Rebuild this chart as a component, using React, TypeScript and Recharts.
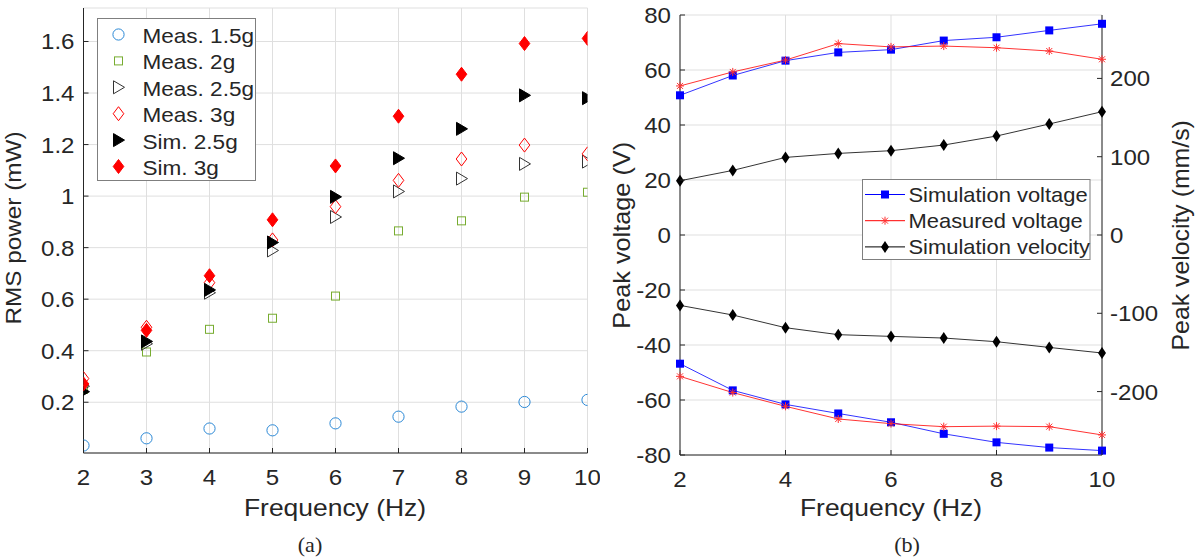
import React from 'react';
import { ScatterChart, Scatter, ComposedChart, Line, XAxis, YAxis, CartesianGrid } from 'recharts';

// ---------- data ----------
const freqs = [2, 3, 4, 5, 6, 7, 8, 9, 10];
const meas15 = [0.032, 0.06, 0.098, 0.091, 0.118, 0.144, 0.183, 0.201, 0.209];
const meas2 = [0.25, 0.395, 0.483, 0.526, 0.612, 0.865, 0.904, 0.996, 1.015];
const meas25 = [0.262, 0.427, 0.625, 0.789, 0.919, 1.018, 1.068, 1.125, 1.134];
const meas3 = [0.292, 0.491, 0.664, 0.83, 0.959, 1.061, 1.144, 1.198, 1.164];
const sim25 = [0.241, 0.436, 0.636, 0.82, 0.997, 1.147, 1.261, 1.391, 1.38];
const sim3 = [0.271, 0.479, 0.691, 0.908, 1.117, 1.31, 1.473, 1.592, 1.612];

const leftXTicks = [2, 3, 4, 5, 6, 7, 8, 9, 10];
const leftYTicks = [0.2, 0.4, 0.6, 0.8, 1, 1.2, 1.4, 1.6];

const simVoltTop = [50.8, 58.0, 63.4, 66.4, 67.4, 70.7, 71.9, 74.4, 76.8];
const measVoltTop = [54.2, 59.3, 63.6, 69.6, 68.4, 68.7, 68.1, 66.9, 63.9];
const simVelTop = [69.3, 82.5, 99.1, 104.2, 107.7, 114.9, 126.4, 141.8, 157.5];
const simVoltBot = [-46.8, -56.5, -61.6, -64.9, -68.1, -72.3, -75.4, -77.3, -78.4];
const measVoltBot = [-51.4, -57.3, -62.3, -66.9, -68.6, -69.7, -69.5, -69.7, -72.7];
const simVelBot = [-89.9, -102.2, -118.4, -127.3, -129.5, -131.6, -136.3, -143.6, -150.7];

const rightXTicks = [2, 4, 6, 8, 10];
const voltTicks = [-80, -60, -40, -20, 0, 20, 40, 60, 80];
const velTicks = [-200, -100, 0, 100, 200];

const leftLegend = ['Meas. 1.5g', 'Meas. 2g', 'Meas. 2.5g', 'Meas. 3g', 'Sim. 2.5g', 'Sim. 3g'];
const rightLegend = ['Simulation voltage', 'Measured voltage', 'Simulation velocity'];

// ---------- style ----------
const FONT = '"Liberation Sans", Arial, Helvetica, sans-serif';
const SERIF = '"Liberation Serif", "Times New Roman", serif';
const TXT = '#262626';
const AX = '#262626';
const GRID = '#dfdfdf';
const SX = 1.12;
const TICK = 21.5;

const toPts = (ys: number[]) => freqs.map((f, i) => ({ x: f, y: ys[i] }));
const rightData = freqs.map((f, i) => ({
  f,
  svt: simVoltTop[i],
  mvt: measVoltTop[i],
  vlt: simVelTop[i],
  svb: simVoltBot[i],
  mvb: measVoltBot[i],
  vlb: simVelBot[i],
}));

const T = ({ x, y, size = 20, anchor = 'start', sx = SX, rot = 0, family = FONT, children }: any) => (
  <text
    transform={`translate(${x},${y})${rot ? ` rotate(${rot})` : ''} scale(${sx},1)`}
    x={0}
    y={0}
    textAnchor={anchor}
    fontFamily={family}
    fontSize={size}
    fill={TXT}
  >
    {children}
  </text>
);

// ---------- markers ----------
const mCircle = (cx: number, cy: number, k?: any) => (
  <circle key={k} cx={cx} cy={cy} r={5.6} fill="none" stroke="#2a88d6" strokeWidth={1} />
);
const mSquare = (cx: number, cy: number, k?: any) => (
  <rect key={k} x={cx - 4} y={cy - 4} width={8} height={8} fill="none" stroke="#77AC30" strokeWidth={1} />
);
const mTriOpen = (cx: number, cy: number, k?: any) => (
  <polygon key={k} points={`${cx - 5},${cy - 6.5} ${cx + 6},${cy} ${cx - 5},${cy + 6.5}`} fill="none" stroke="#333" strokeWidth={1} />
);
const mDiaOpen = (cx: number, cy: number, k?: any) => (
  <polygon key={k} points={`${cx},${cy - 7} ${cx + 5.3},${cy} ${cx},${cy + 7} ${cx - 5.3},${cy}`} fill="none" stroke="#ff0000" strokeWidth={1} />
);
const mTriFill = (cx: number, cy: number, k?: any) => (
  <polygon key={k} points={`${cx - 5},${cy - 6.5} ${cx + 6},${cy} ${cx - 5},${cy + 6.5}`} fill="#000" stroke="#000" strokeWidth={1} />
);
const mDiaFill = (cx: number, cy: number, k?: any) => (
  <polygon key={k} points={`${cx},${cy - 7} ${cx + 5.3},${cy} ${cx},${cy + 7} ${cx - 5.3},${cy}`} fill="#ff0000" stroke="#ff0000" strokeWidth={1} />
);
const leftMarkers = [mCircle, mSquare, mTriOpen, mDiaOpen, mTriFill, mDiaFill];

const dSquare = (cx: number, cy: number, k?: any) => (
  <rect key={k} x={cx - 4} y={cy - 4} width={8} height={8} fill="#0000ff" />
);
const dStar = (cx: number, cy: number, k?: any) => (
  <g key={k} stroke="#ff3030" strokeWidth={1}>
    <line x1={cx - 4} x2={cx + 4} y1={cy} y2={cy} />
    <line x1={cx} x2={cx} y1={cy - 4} y2={cy + 4} />
    <line x1={cx - 3} x2={cx + 3} y1={cy - 3} y2={cy + 3} />
    <line x1={cx - 3} x2={cx + 3} y1={cy + 3} y2={cy - 3} />
  </g>
);
const dDia = (cx: number, cy: number, k?: any) => (
  <polygon key={k} points={`${cx},${cy - 6} ${cx + 4},${cy} ${cx},${cy + 6} ${cx - 4},${cy}`} fill="#000" />
);
const rightMarkers = [dSquare, dStar, dDia];
const rightColors = ['#0000ff', '#ff0000', '#000000'];

const dotFn = (fn: any, name: string) => (p: any) => fn(p.cx, p.cy, `${name}-${p.index}`);

// ---------- ticks ----------
const XTick = (p: any) => (
  <g>
    <line x1={p.x} x2={p.x} y1={p.y} y2={p.y - 5} stroke={AX} strokeWidth={1} />
    <T x={p.x} y={p.y + 31.5} anchor="middle" size={TICK}>{String(p.payload.value)}</T>
  </g>
);
const YTickL = (p: any) => (
  <g>
    <line x1={p.x} x2={p.x + 5} y1={p.y} y2={p.y} stroke={AX} strokeWidth={1} />
    <T x={p.x - 9} y={p.y + 8} anchor="end" size={TICK}>{String(p.payload.value)}</T>
  </g>
);
const YTickR = (p: any) => (
  <g>
    <line x1={p.x} x2={p.x - 5} y1={p.y} y2={p.y} stroke={AX} strokeWidth={1} />
    <T x={p.x + 8} y={p.y + 8} anchor="start" size={TICK}>{String(p.payload.value)}</T>
  </g>
);

export default function App() {
  const series = [meas15, meas2, meas25, meas3, sim25, sim3];
  return (
    <div style={{ position: 'absolute', left: 0, top: 0, width: 1199, height: 559, background: '#fff' }}>
      <div style={{ position: 'absolute', left: 0, top: 0 }}>
        <ScatterChart width={600} height={559} margin={{ top: 8, right: 12.5, bottom: 76, left: 23.5 }}>
          <CartesianGrid stroke={GRID} strokeWidth={1} />
          <XAxis
            type="number"
            dataKey="x"
            domain={[2, 10]}
            ticks={leftXTicks}
            interval={0}
            height={30}
            tickSize={0}
            tickMargin={0}
            tickLine={false}
            axisLine={{ stroke: AX, strokeWidth: 1 }}
            tick={XTick}
            allowDataOverflow
          />
          <YAxis
            type="number"
            dataKey="y"
            domain={[0.003, 1.73]}
            ticks={leftYTicks}
            interval={0}
            width={60}
            tickSize={0}
            tickMargin={0}
            tickLine={false}
            axisLine={{ stroke: AX, strokeWidth: 1 }}
            tick={YTickL}
            allowDataOverflow
          />
          {series.map((s, i) => (
            <Scatter
              key={leftLegend[i]}
              name={leftLegend[i]}
              data={toPts(s)}
              isAnimationActive={false}
              shape={(p: any) => leftMarkers[i](p.cx, p.cy)}
            />
          ))}
        </ScatterChart>
      </div>
      <div style={{ position: 'absolute', left: 600, top: 0 }}>
        <ComposedChart width={599} height={559} data={rightData} margin={{ top: 15, right: 37, bottom: 74, left: 20 }}>
          <CartesianGrid stroke={GRID} strokeWidth={1} yAxisId="v" />
          <XAxis
            type="number"
            dataKey="f"
            domain={[2, 10]}
            ticks={rightXTicks}
            interval={0}
            height={30}
            tickSize={0}
            tickMargin={0}
            tickLine={false}
            axisLine={{ stroke: AX, strokeWidth: 1 }}
            tick={XTick}
          />
          <YAxis
            yAxisId="v"
            orientation="left"
            type="number"
            domain={[-80, 80]}
            ticks={voltTicks}
            interval={0}
            width={60}
            tickSize={0}
            tickMargin={0}
            tickLine={false}
            axisLine={{ stroke: AX, strokeWidth: 1 }}
            tick={YTickL}
          />
          <YAxis
            yAxisId="vel"
            orientation="right"
            type="number"
            domain={[-281, 281]}
            ticks={velTicks}
            interval={0}
            width={60}
            tickSize={0}
            tickMargin={0}
            tickLine={false}
            axisLine={{ stroke: AX, strokeWidth: 1 }}
            tick={YTickR}
          />
          <Line yAxisId="v" dataKey="svt" stroke="#0000ff" strokeWidth={0.8} dot={dotFn(dSquare, 'svt')} activeDot={false} isAnimationActive={false} />
          <Line yAxisId="v" dataKey="svb" stroke="#0000ff" strokeWidth={0.8} dot={dotFn(dSquare, 'svb')} activeDot={false} isAnimationActive={false} />
          <Line yAxisId="v" dataKey="mvt" stroke="#ff0000" strokeWidth={0.8} dot={dotFn(dStar, 'mvt')} activeDot={false} isAnimationActive={false} />
          <Line yAxisId="v" dataKey="mvb" stroke="#ff0000" strokeWidth={0.8} dot={dotFn(dStar, 'mvb')} activeDot={false} isAnimationActive={false} />
          <Line yAxisId="vel" dataKey="vlt" stroke="#000" strokeWidth={0.8} dot={dotFn(dDia, 'vlt')} activeDot={false} isAnimationActive={false} />
          <Line yAxisId="vel" dataKey="vlb" stroke="#000" strokeWidth={0.8} dot={dotFn(dDia, 'vlb')} activeDot={false} isAnimationActive={false} />
        </ComposedChart>
      </div>
      <svg width={1199} height={559} style={{ position: 'absolute', left: 0, top: 0, pointerEvents: 'none' }}>
        {/* left legend */}
        <rect x={97.5} y={18.5} width={158} height={162} fill="#fff" stroke="#7f7f7f" strokeWidth={1} />
        {leftLegend.map((name, i) => (
          <g key={name}>
            {leftMarkers[i](118.5, 34.5 + 26.4 * i)}
            <T x={142.5} y={35.5 + 26.4 * i + 7.4} size={20.5} sx={1.1}>{name}</T>
          </g>
        ))}
        {/* right legend */}
        <rect x={862.5} y={179.5} width={227.5} height={80} fill="#fff" stroke="#7f7f7f" strokeWidth={1} />
        {rightLegend.map((name, i) => (
          <g key={name}>
            <line x1={865} x2={905} y1={194.5 + 26.2 * i} y2={194.5 + 26.2 * i} stroke={rightColors[i]} strokeWidth={1} />
            {rightMarkers[i](885, 194.5 + 26.2 * i)}
            <T x={908.5} y={194.5 + 26.2 * i + 7.4} size={20.5} sx={1.07}>{name}</T>
          </g>
        ))}
        {/* axis titles */}
        <T x={20.7} y={228} rot={-90} anchor="middle" size={22.5} sx={1.08}>RMS power (mW)</T>
        <T x={335} y={516.3} anchor="middle" size={23} sx={1.15}>Frequency (Hz)</T>
        <T x={630} y={235.3} rot={-90} anchor="middle" size={23} sx={1.1}>Peak voltage (V)</T>
        <T x={1189} y={235.3} rot={-90} anchor="middle" size={23} sx={1.08}>Peak velocity (mm/s)</T>
        <T x={891} y={516.3} anchor="middle" size={23} sx={1.15}>Frequency (Hz)</T>
        {/* captions */}
        <T x={310} y={552} anchor="middle" size={21} sx={1.05} family={SERIF}>(a)</T>
        <T x={907} y={552} anchor="middle" size={21} sx={1.05} family={SERIF}>(b)</T>
      </svg>
    </div>
  );
}
